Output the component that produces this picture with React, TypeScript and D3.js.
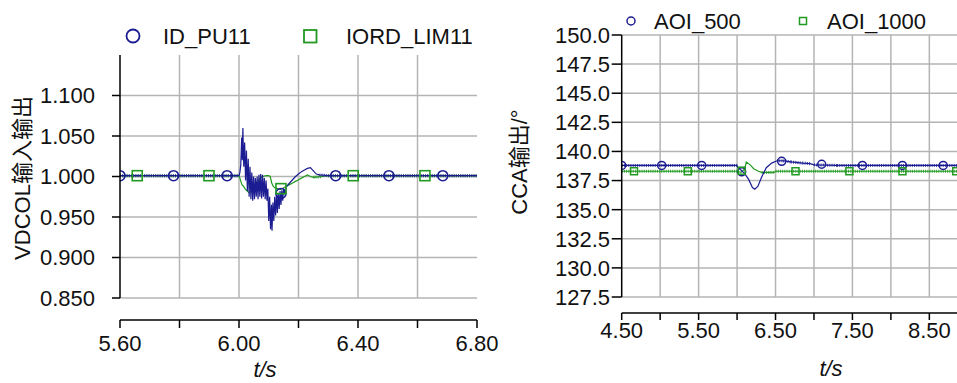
import React from "react";
import * as d3 from "d3";

// ---------- Left chart data ----------
const leftXTicks = [5.6, 5.8, 6.0, 6.2, 6.4, 6.6, 6.8];
const leftXLabels = ["5.60", "", "6.00", "", "6.40", "", "6.80"];
const leftYTicks = [0.85, 0.9, 0.95, 1.0, 1.05, 1.1];
const leftYLabels = ["0.850", "0.900", "0.950", "1.000", "1.050", "1.100"];

const idPu11: [number, number][] = [
  [5.6, 1.001], [6.0, 1.001], [6.003, 1.005], [6.006, 1.015], [6.009, 1.048], [6.011, 1.02],
  [6.013, 1.06], [6.016, 1.012], [6.019, 1.042], [6.022, 0.995], [6.025, 1.032], [6.028, 0.982],
  [6.031, 1.022], [6.034, 0.975], [6.037, 1.012], [6.04, 0.972], [6.043, 1.005], [6.046, 0.97],
  [6.049, 1.0], [6.052, 0.972], [6.055, 0.998], [6.058, 0.975], [6.061, 1.0], [6.064, 0.972],
  [6.067, 1.002], [6.07, 0.975], [6.073, 1.003], [6.076, 0.973], [6.079, 1.002], [6.082, 0.975],
  [6.085, 0.998], [6.088, 0.972], [6.091, 0.995], [6.094, 0.97], [6.097, 0.985], [6.1, 0.945],
  [6.103, 0.975], [6.106, 0.935], [6.109, 0.965], [6.111, 0.933], [6.114, 0.968], [6.117, 0.945],
  [6.12, 0.975], [6.123, 0.952], [6.126, 0.978], [6.129, 0.955], [6.132, 0.98], [6.135, 0.96],
  [6.138, 0.982], [6.141, 0.965], [6.144, 0.983], [6.147, 0.97], [6.15, 0.985], [6.155, 0.978],
  [6.16, 0.988], [6.17, 0.992], [6.18, 0.996], [6.19, 1.0], [6.2, 1.003], [6.21, 1.006],
  [6.22, 1.008], [6.23, 1.01], [6.24, 1.011], [6.25, 1.007], [6.26, 1.003], [6.27, 1.002],
  [6.3, 1.001], [6.8, 1.001],
];

const iordLim11: [number, number][] = [
  [5.6, 1.001], [6.0, 1.001], [6.003, 0.998], [6.006, 0.994], [6.01, 0.99], [6.015, 0.988],
  [6.02, 0.985], [6.025, 0.983], [6.03, 0.981], [6.035, 0.98], [6.04, 0.982], [6.045, 0.985],
  [6.05, 0.988], [6.055, 0.99], [6.06, 0.993], [6.065, 0.995], [6.07, 0.998], [6.08, 1.0],
  [6.09, 1.001], [6.1, 1.001], [6.105, 1.0], [6.11, 0.992], [6.115, 0.988], [6.12, 0.986],
  [6.13, 0.985], [6.14, 0.984], [6.15, 0.986], [6.16, 0.988], [6.17, 0.99], [6.18, 0.992],
  [6.19, 0.994], [6.2, 0.996], [6.21, 0.998], [6.22, 1.0], [6.23, 1.002], [6.24, 1.0],
  [6.25, 0.999], [6.28, 1.0], [6.3, 1.001], [6.8, 1.001],
];

const idPu11Markers: [number, number][] = [
  [5.6, 1.001], [5.78, 1.001], [5.96, 1.001], [6.141, 0.979], [6.325, 1.001], [6.504, 1.001], [6.685, 1.001],
];
const iordLim11Markers: [number, number][] = [
  [5.658, 1.001], [5.899, 1.001], [6.141, 0.985], [6.384, 1.001], [6.625, 1.001],
];

// ---------- Right chart data ----------
const rightXTicks = [4.5, 5.0, 5.5, 6.0, 6.5, 7.0, 7.5, 8.0, 8.5];
const rightXLabels = ["4.50", "", "5.50", "", "6.50", "", "7.50", "", "8.50"];
const rightYTicks = [127.5, 130, 132.5, 135, 137.5, 140, 142.5, 145, 147.5, 150];
const rightYLabels = ["127.5", "130.0", "132.5", "135.0", "137.5", "140.0", "142.5", "145.0", "147.5", "150.0"];

const aoi500: [number, number][] = [
  [4.5, 138.8], [6.0, 138.8], [6.01, 138.6], [6.05, 138.4], [6.1, 138.1], [6.15, 137.6],
  [6.2, 136.9], [6.23, 136.75], [6.27, 137.0], [6.32, 137.8], [6.38, 138.6], [6.45, 139.0],
  [6.52, 139.2], [6.6, 139.2], [6.7, 139.1], [6.85, 139.0], [6.95, 138.95], [7.0, 138.85],
  [7.3, 138.8], [9.0, 138.8],
];
const aoi1000: [number, number][] = [
  [4.5, 138.3], [6.0, 138.3], [6.05, 138.2], [6.1, 138.5], [6.12, 139.1], [6.17, 138.85],
  [6.22, 138.5], [6.28, 138.3], [6.32, 138.2], [6.48, 138.2], [6.5, 138.3], [9.0, 138.3],
];
const aoi500Markers: [number, number][] = [
  [4.5, 138.8], [5.02, 138.8], [5.54, 138.8], [6.06, 138.25], [6.58, 139.15], [7.1, 138.9],
  [7.63, 138.8], [8.15, 138.8], [8.68, 138.8],
];
const aoi1000Markers: [number, number][] = [
  [4.66, 138.3], [5.36, 138.3], [6.06, 138.35], [6.76, 138.3], [7.46, 138.3], [8.15, 138.3], [8.85, 138.3],
];

const BLUE = "#1c1c92";
const GREEN = "#229a22";
const GRID = "#b4b4b4";
const FONT = "'Liberation Sans', Arial, sans-serif";
const CJK = "'Liberation Sans', 'Noto Sans CJK SC', sans-serif";
const FS = 22;

function Series({ data, x, y, color, hatchOpacity }: any) {
  const line = d3.line<[number, number]>().x((d) => x(d[0])).y((d) => y(d[1]));
  const p = line(data) || "";
  // hatch texture only on the long, slowly-varying stretches
  const flat: [number, number][][] = [];
  for (let i = 0; i < data.length - 1; i++) {
    if (x(data[i + 1][0]) - x(data[i][0]) > 6) flat.push([data[i], data[i + 1]]);
  }
  return (
    <g>
      <path d={p} fill="none" stroke={color} strokeWidth={1.2} />
      {flat.map((seg, i) => (
        <path key={i} d={line(seg) || ""} fill="none" stroke={color} strokeWidth={3}
          strokeDasharray="1,1.2" opacity={hatchOpacity} />
      ))}
    </g>
  );
}

export default function App() {
  // Left scales
  const xL = d3.scaleLinear().domain([5.6, 6.8]).range([120, 477]);
  const yL = d3.scaleLinear().domain([0.85, 1.15]).range([298, 55]);
  // Right scales
  const xR = d3.scaleLinear().domain([4.5, 9.0]).range([621.7, 967.8]);
  const yR = d3.scaleLinear().domain([127.5, 150]).range([297, 35]);

  const lTop = yL(1.15), lBot = yL(0.85), lLeft = xL(5.6), lRight = xL(6.8);
  const rTop = yR(150), rBot = yR(127.5), rLeft = xR(4.5), rRight = 957;
  const lAxisY = 320;
  const rAxisY = 313;

  return (
    <svg width={957} height={383} style={{ position: "absolute", left: 0, top: 0, background: "#fff" }}
      fontFamily={FONT}>
      <defs>
        <clipPath id="clipL"><rect x={lLeft} y={lTop - 10} width={lRight - lLeft + 2} height={lBot - lTop + 20} /></clipPath>
        <clipPath id="clipR"><rect x={rLeft} y={rTop - 10} width={rRight - rLeft} height={rBot - rTop + 20} /></clipPath>
      </defs>

      {/* ===== Left chart ===== */}
      {leftYTicks.map((v) => (
        <line key={"lgh" + v} x1={lLeft} x2={lRight} y1={yL(v)} y2={yL(v)} stroke={GRID} strokeWidth={1.5} />
      ))}
      {leftXTicks.slice(1, -1).map((v) => (
        <line key={"lgv" + v} x1={xL(v)} x2={xL(v)} y1={lTop} y2={lBot} stroke={GRID} strokeWidth={1.5} />
      ))}
      <g clipPath="url(#clipL)">
        <Series data={iordLim11} x={xL} y={yL} color={GREEN} hatchOpacity={0.85} />
        <Series data={idPu11} x={xL} y={yL} color={BLUE} hatchOpacity={0.75} />
        {idPu11Markers.map((d, i) => (
          <circle key={"lc" + i} cx={xL(d[0])} cy={yL(d[1])} r={5} fill="none" stroke={BLUE} strokeWidth={1.6} />
        ))}
        {iordLim11Markers.map((d, i) => (
          <rect key={"ls" + i} x={xL(d[0]) - 5} y={yL(d[1]) - 5} width={10} height={10} fill="none" stroke={GREEN} strokeWidth={1.6} />
        ))}
      </g>
      <line x1={lLeft} x2={lLeft} y1={lTop} y2={lBot} stroke="#000" strokeWidth={1.5} />
      {leftYTicks.map((v, i) => (
        <g key={"lyt" + v}>
          <line x1={lLeft - 8} x2={lLeft} y1={yL(v)} y2={yL(v)} stroke="#000" strokeWidth={1.5} />
          <text x={95} y={yL(v)} dy="0.36em" textAnchor="end" fontSize={FS} fill="#111">{leftYLabels[i]}</text>
        </g>
      ))}
      <line x1={lLeft} x2={lRight} y1={lAxisY} y2={lAxisY} stroke="#000" strokeWidth={1.5} />
      {leftXTicks.map((v, i) => (
        <g key={"lxt" + v}>
          <line x1={xL(v)} x2={xL(v)} y1={lAxisY} y2={lAxisY + 8} stroke="#000" strokeWidth={1.5} />
          {leftXLabels[i] && (
            <text x={xL(v)} y={351} textAnchor="middle" fontSize={FS} fill="#111">{leftXLabels[i]}</text>
          )}
        </g>
      ))}
      <text x={265} y={377} textAnchor="middle" fontSize={FS} fontStyle="italic" fill="#111">t/s</text>
      <text transform="translate(30,178) rotate(-90)" textAnchor="middle" fontSize={FS} fontFamily={CJK} fill="#111">VDCOL输入输出</text>
      {/* left legend */}
      <circle cx={133} cy={36} r={6.5} fill="none" stroke={BLUE} strokeWidth={1.8} />
      <text x={163} y={44} fontSize={FS} fill="#111">ID_PU11</text>
      <rect x={304} y={30} width={12.5} height={12.5} fill="none" stroke={GREEN} strokeWidth={1.8} />
      <text x={346} y={44} fontSize={FS} fill="#111">IORD_LIM11</text>

      {/* ===== Right chart ===== */}
      {rightYTicks.map((v) => (
        <line key={"rgh" + v} x1={rLeft} x2={rRight} y1={yR(v)} y2={yR(v)} stroke={GRID} strokeWidth={1.5} />
      ))}
      {rightXTicks.slice(1).map((v) => (
        <line key={"rgv" + v} x1={xR(v)} x2={xR(v)} y1={rTop} y2={rBot} stroke={GRID} strokeWidth={1.5} />
      ))}
      <g clipPath="url(#clipR)">
        <Series data={aoi1000} x={xR} y={yR} color={GREEN} hatchOpacity={0.9} />
        <Series data={aoi500} x={xR} y={yR} color={BLUE} hatchOpacity={0.85} />
        {aoi500Markers.map((d, i) => (
          <circle key={"rc" + i} cx={xR(d[0])} cy={yR(d[1])} r={4} fill="none" stroke={BLUE} strokeWidth={1.5} />
        ))}
        {aoi1000Markers.map((d, i) => (
          <rect key={"rs" + i} x={xR(d[0]) - 3.5} y={yR(d[1]) - 3.5} width={7} height={7} fill="none" stroke={GREEN} strokeWidth={1.5} />
        ))}
      </g>
      <line x1={rLeft} x2={rLeft} y1={rTop} y2={rBot} stroke="#000" strokeWidth={1.5} />
      {rightYTicks.map((v, i) => (
        <g key={"ryt" + v}>
          <line x1={rLeft - 10} x2={rLeft} y1={yR(v)} y2={yR(v)} stroke="#000" strokeWidth={1.5} />
          <text x={610} y={yR(v)} dy="0.36em" textAnchor="end" fontSize={FS} fill="#111">{rightYLabels[i]}</text>
        </g>
      ))}
      <line x1={rLeft} x2={rRight} y1={rAxisY} y2={rAxisY} stroke="#000" strokeWidth={1.5} />
      {rightXTicks.map((v, i) => (
        <g key={"rxt" + v}>
          <line x1={xR(v)} x2={xR(v)} y1={rAxisY} y2={rAxisY + 7} stroke="#000" strokeWidth={1.5} />
          {rightXLabels[i] && (
            <text x={xR(v)} y={338} textAnchor="middle" fontSize={FS} fill="#111">{rightXLabels[i]}</text>
          )}
        </g>
      ))}
      <text x={831} y={376} textAnchor="middle" fontSize={FS} fontStyle="italic" fill="#111">t/s</text>
      <text transform="translate(527,162) rotate(-90)" textAnchor="middle" fontSize={FS} fontFamily={CJK} fill="#111">CCA输出/°</text>
      {/* right legend */}
      <circle cx={631} cy={21} r={4} fill="none" stroke={BLUE} strokeWidth={1.5} />
      <text x={654} y={29} fontSize={FS} fill="#111">AOI_500</text>
      <rect x={799.5} y={17.5} width={7} height={7} fill="none" stroke={GREEN} strokeWidth={1.5} />
      <text x={827} y={29} fontSize={FS} fill="#111">AOI_1000</text>
    </svg>
  );
}
